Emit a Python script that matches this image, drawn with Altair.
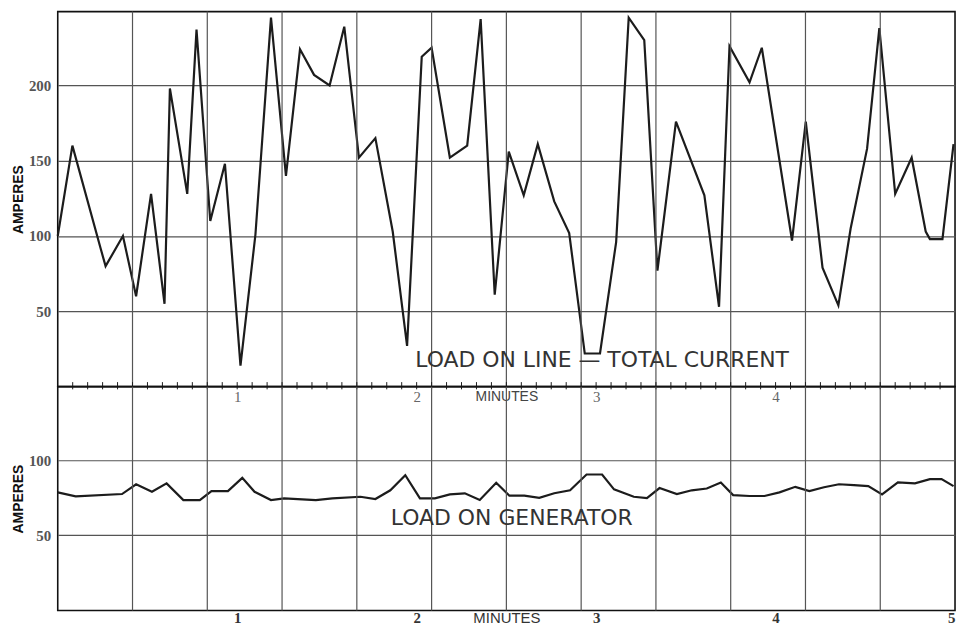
import altair as alt
import pandas as pd

# ---- data (time in seconds, current in amperes) ----
line_t = [0, 4.9, 14.3, 16, 21.8, 26.2, 31.2, 35.7, 37.5, 43.3, 46.4, 51, 55.9, 61.1, 66.1,
          71.3, 76.3, 81, 85.7, 90.9, 95.8, 100.7, 106.2, 112, 116.8, 121.7, 125, 131.1, 136.9,
          141.4, 146.1, 150.8, 155.8, 160.5, 166, 171, 176.2, 181.3, 186.7, 190.9, 196.1, 200.5,
          206.7, 216.2, 221.1, 224.6, 231.3, 235.4, 245.5, 250.1, 255.7, 261, 265.1, 270.6,
          274.7, 280, 285.5, 290.2, 291.6, 295.8, 299.5]
line_a = [100, 160, 92, 80, 100, 60, 128, 55, 198, 128, 237, 110, 148, 14, 101,
          245, 140, 224, 207, 200, 239, 152, 165, 103, 27, 219, 225, 152, 160,
          244, 61, 156, 127, 161, 123, 102, 22, 22, 96, 245, 230, 77,
          176, 127, 53, 226, 202, 225, 97, 176, 79, 54, 105, 158,
          238, 128, 152, 103, 98, 98, 161]

gen_t = [0, 6, 21.5, 26.2, 31.5, 36.4, 42, 47.5, 51.4, 56.9, 61.7, 65.8, 71.3, 75.7, 86.3,
         91.8, 101.2, 106.2, 111.2, 116.2, 121.1, 126.1, 131.1, 136.1, 141.1, 146.6, 151, 156,
         161, 166, 171.3, 176.8, 182, 186, 192.6, 197, 201.2, 207, 212, 217, 221.7, 225.8,
         231.3, 236.3, 241.3, 246.6, 251.3, 256.2, 261.2, 266.2, 271, 275.6, 280.9, 286.6,
         291.6, 295.5, 299.5]
gen_a = [78.6, 76, 77.5, 84, 79, 84.6, 73.5, 73.5, 79.5, 79.5, 88.3, 79, 73.5, 74.6, 73.5,
         74.6, 75.7, 74.2, 80, 90, 74.6, 74.6, 77.3, 78, 73.5, 85, 76.4, 76.4,
         75, 78, 80, 90.5, 90.5, 80.6, 75.7, 74.8, 81.5, 77.5, 80, 81.2, 85.2, 76.8,
         76.2, 76.2, 78.6, 82.3, 79.5, 82, 84, 83.4, 82.8, 77.3, 85.2, 84.6,
         87.4, 87.4, 82.8]

grid_t = [25, 50, 75, 100, 125, 150, 175, 200, 225, 250, 275]
small_ticks = list(range(5, 300, 5))
minute_values = [60, 120, 150, 180, 240, 300]
minute_labels = ["1", "2", "MINUTES", "3", "4", "5"]
top_y_ticks = [50, 100, 150, 200]
low_y_ticks = [50, 100]

top_note = "LOAD ON LINE — TOTAL CURRENT"
low_note = "LOAD ON GENERATOR"

# ---- tables ----
df_line = pd.DataFrame({"t": line_t, "a": line_a})
df_gen = pd.DataFrame({"t": gen_t, "a": gen_a})
df_grid = pd.DataFrame({"t": grid_t})
df_ticks = pd.DataFrame({"t": small_ticks, "a": [-1.8] * len(small_ticks), "a2": [3.0] * len(small_ticks)})
df_top_note = pd.DataFrame({"t": [182], "a": [13], "label": [top_note]})
df_low_note = pd.DataFrame({"t": [151.8], "a": [57], "label": [low_note]})

W, H1, H2 = 902, 377, 225
GRID = "#555555"
INK = "#1c1c1c"

def label_expr(vals, labs, default="''"):
    parts = []
    for v, l in zip(vals, labs):
        parts.append(f"datum.value == {v} ? '{l}' : ")
    return "".join(parts) + default

xscale = alt.Scale(domain=[0, 300], nice=False, zero=False)

# ---------------- top panel ----------------
top_x_axis = alt.Axis(
    values=minute_values[:5],
    labelExpr=label_expr(minute_values[:5], minute_labels[:5]),
    title=None, grid=False, domain=False,
    ticks=False, tickSize=0,
    labelPadding=3, labelOverlap=False, labelFlush=False,
    labelFont=alt.condition("datum.value == 150", alt.value("Liberation Sans"), alt.value("Liberation Serif")),
    labelFontSize=alt.condition("datum.value == 150", alt.value(14), alt.value(15)),
    labelColor=alt.condition("datum.value == 150", alt.value("#444444"), alt.value("#666666")),
)
top_y_axis = alt.Axis(
    values=top_y_ticks, title="AMPERES", grid=True, gridColor=GRID, gridWidth=1.2,
    domain=False, ticks=False, tickSize=0, labelPadding=7,
    labelFont="Liberation Serif", labelFontSize=15, labelFontWeight="bold", labelColor="#555555",
    titleFont="Liberation Sans", titleFontSize=14, titleFontWeight="bold", titleColor="#111111",
    titleX=-32,
)
top_y_scale = alt.Scale(domain=[0, 249], nice=False, zero=True)

top_grid = alt.Chart(df_grid).mark_rule(color=GRID, strokeWidth=1.2).encode(
    x=alt.X("t:Q", scale=xscale)
)
top_ticks = alt.Chart(df_ticks).mark_rule(color=INK, strokeWidth=1).encode(
    x=alt.X("t:Q", scale=xscale),
    y=alt.Y("a:Q", scale=top_y_scale),
    y2="a2:Q",
)
top_line = alt.Chart(df_line).mark_line(color=INK, strokeWidth=2.2, strokeJoin="miter").encode(
    x=alt.X("t:Q", scale=xscale, axis=top_x_axis),
    y=alt.Y("a:Q", scale=top_y_scale, axis=top_y_axis),
)
top_text = alt.Chart(df_top_note).mark_text(
    font="DejaVu Sans", fontSize=22, color="#333333", align="center", baseline="alphabetic"
).encode(
    x=alt.X("t:Q", scale=xscale),
    y=alt.Y("a:Q", scale=top_y_scale),
    text="label:N",
)
top = alt.layer(top_line, top_grid, top_ticks, top_text).properties(width=W, height=H1)

# ---------------- lower panel ----------------
low_x_axis = alt.Axis(
    values=minute_values,
    labelExpr=label_expr(minute_values, minute_labels),
    title=None, grid=False, domain=False,
    ticks=False, tickSize=0, labelPadding=0, labelOverlap=False,
    labelFont=alt.condition("datum.value == 150", alt.value("Liberation Sans"), alt.value("Liberation Serif")),
    labelFontSize=alt.condition("datum.value == 150", alt.value(15), alt.value(15)),
    labelFontWeight=alt.condition("datum.value == 150", alt.value("normal"), alt.value("bold")),
    labelColor=alt.condition("datum.value == 150", alt.value("#333333"), alt.value("#333333")),
)
low_y_axis = alt.Axis(
    values=low_y_ticks, title="AMPERES", grid=True, gridColor=GRID, gridWidth=1.2,
    domain=False, ticks=False, tickSize=0, labelPadding=7,
    labelFont="Liberation Serif", labelFontSize=15, labelFontWeight="bold", labelColor="#555555",
    titleFont="Liberation Sans", titleFontSize=14, titleFontWeight="bold", titleColor="#111111",
    titleX=-32,
)
low_y_scale = alt.Scale(domain=[0, 149], nice=False, zero=True)

low_grid = alt.Chart(df_grid).mark_rule(color=GRID, strokeWidth=1.2).encode(
    x=alt.X("t:Q", scale=xscale)
)
low_line = alt.Chart(df_gen).mark_line(color=INK, strokeWidth=2.2, strokeJoin="miter").encode(
    x=alt.X("t:Q", scale=xscale, axis=low_x_axis),
    y=alt.Y("a:Q", scale=low_y_scale, axis=low_y_axis),
)
low_text = alt.Chart(df_low_note).mark_text(
    font="DejaVu Sans", fontSize=22, color="#333333", align="center", baseline="alphabetic"
).encode(
    x=alt.X("t:Q", scale=xscale),
    y=alt.Y("a:Q", scale=low_y_scale),
    text="label:N",
)
low = alt.layer(low_line, low_grid, low_text).properties(width=W, height=H2)

chart = alt.vconcat(top, low, spacing=0, bounds="flush").properties(
    padding={"left": 3, "top": 0, "right": 0, "bottom": 0},
    background="white",
).configure_view(stroke="#111111", strokeWidth=1.6)

chart.save("out.html", embed_options={"renderer": "svg", "actions": False})
